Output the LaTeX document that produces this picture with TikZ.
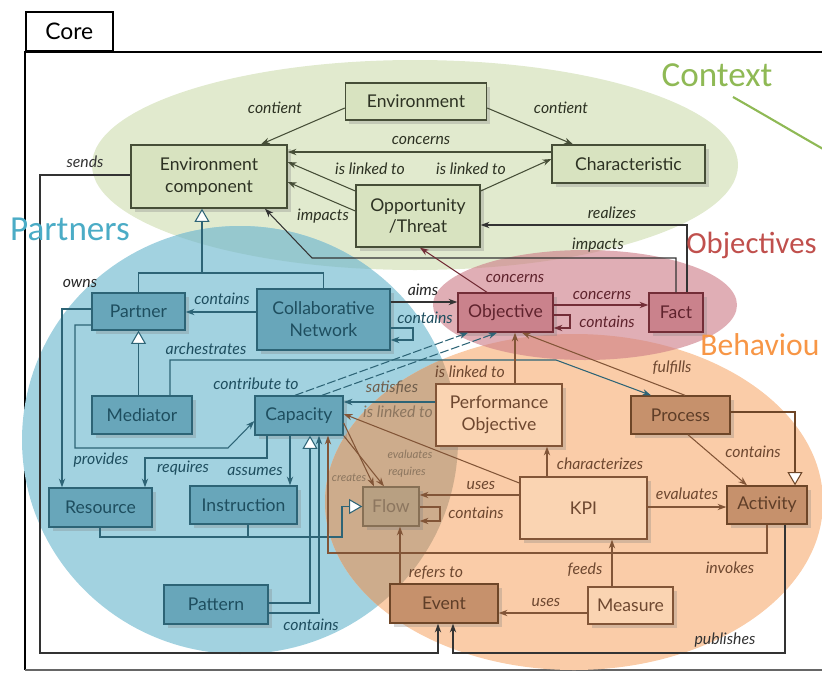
\documentclass[tikz,border=0pt]{standalone}
\usepackage{fontspec}
\setmainfont{Lato}
\newfontfamily\regionfont{Carlito}
\usetikzlibrary{arrows.meta,shadows}

\definecolor{ctxbg}{RGB}{225,234,206}
\definecolor{ctxfill}{RGB}{216,227,192}
\definecolor{ctxline}{RGB}{70,78,55}
\definecolor{ctxtext}{RGB}{45,50,35}
\definecolor{ptbg}{RGB}{162,210,224}
\definecolor{gbmix}{RGB}{150,200,206}
\definecolor{ptfill}{RGB}{104,166,186}
\definecolor{ptline}{RGB}{45,100,118}
\definecolor{pttext}{RGB}{30,78,95}
\definecolor{objbg}{RGB}{205,125,135}
\definecolor{objfill}{RGB}{202,130,140}
\definecolor{objline}{RGB}{115,45,55}
\definecolor{objtext}{RGB}{95,35,45}
\definecolor{bhbg}{RGB}{250,204,168}
\definecolor{bomix}{RGB}{205,172,140}
\definecolor{pofill}{RGB}{250,212,178}
\definecolor{poline}{RGB}{130,85,55}
\definecolor{potext}{RGB}{110,72,48}
\definecolor{dkfill}{RGB}{198,145,108}
\definecolor{dkline}{RGB}{110,70,40}
\definecolor{dktext}{RGB}{95,62,40}
\definecolor{flowfill}{RGB}{184,160,130}
\definecolor{flowline}{RGB}{135,112,85}
\definecolor{flowtext}{RGB}{140,118,95}
\definecolor{ctxlab}{RGB}{143,185,85}
\definecolor{ptlab}{RGB}{75,172,198}
\definecolor{objlab}{RGB}{192,80,77}
\definecolor{bhlab}{RGB}{247,150,70}

\begin{document}
\begin{tikzpicture}[x=0.02cm,y=-0.02cm,
    >={Stealth[length=5pt,width=3.6pt]},
    box/.style={draw,line width=0.8pt,inner sep=1pt,align=center,
      font=\fontsize{10}{12.5}\selectfont,
      drop shadow={shadow xshift=2pt,shadow yshift=-2pt,opacity=0.3}},
    ctxbox/.style={box,fill=ctxfill,draw=ctxline,text=ctxtext},
    ptbox/.style={box,fill=ptfill,draw=ptline,text=pttext},
    objbox/.style={box,fill=objfill,draw=objline,text=objtext},
    pobox/.style={box,fill=pofill,draw=poline,text=potext},
    dkbox/.style={box,fill=dkfill,draw=dkline,text=dktext},
    flowbox/.style={box,fill=flowfill,draw=flowline,text=flowtext},
    lbl/.style={font=\itshape\fontsize{9}{10}\selectfont,inner sep=0pt},
    tinylbl/.style={font=\itshape\fontsize{6.5}{7}\selectfont,inner sep=0pt,text=flowtext},
    cg/.style={draw=ctxline,line width=0.6pt},
    cb/.style={draw=ptline,line width=0.6pt},
    co/.style={draw=poline,line width=0.6pt},
    cr/.style={draw=objline,line width=0.6pt},
    ck/.style={draw=black!80,line width=0.6pt},
    gen/.style={-{Triangle[open,length=7.5pt,width=8.5pt,fill=white]}},
    dashline/.style={dash pattern=on 5pt off 1.5pt},
    region/.style={font=\regionfont\fontsize{20}{24}\selectfont,inner sep=0pt}]
    \useasboundingbox (0,0) rectangle (822,673);

    % frame of the package
    \draw[line width=0.9pt] (25,670) -- (25,52) -- (830,52);
    \draw[black!60,line width=0.6pt] (25,670) -- (830,670);
    \node[draw,line width=0.9pt,fill=white,minimum width=1.74cm,minimum height=0.78cm,
      anchor=south west,font=\fontsize{13}{14}\selectfont] (core) at (25,52) {Core};

    % regions
    \fill[ctxbg] (415,165) ellipse [x radius=323, y radius=105];
    \fill[ptbg] (240,440) ellipse [x radius=218, y radius=214];
    \begin{scope}
      \clip (415,165) ellipse [x radius=323, y radius=105];
      \fill[gbmix] (240,440) ellipse [x radius=218, y radius=214];
    \end{scope}
    \fill[bhbg] (574,502) ellipse [x radius=249, y radius=168];
    \begin{scope}
      \clip (240,440) ellipse [x radius=218, y radius=214];
      \fill[bomix] (574,502) ellipse [x radius=249, y radius=168];
    \end{scope}
    \fill[objbg,opacity=0.62] (585,305) ellipse [x radius=152, y radius=55];

    % classes
    \node[ctxbox,minimum width=2.82cm,minimum height=0.74cm] (env) at (416,101.5) {Environment};
    \node[ctxbox,minimum width=3.12cm,minimum height=1.26cm] (envcomp) at (209,176.5) {Environment\\component};
    \node[ctxbox,minimum width=3.06cm,minimum height=0.76cm] (charac) at (628.5,164) {Characteristic};
    \node[ctxbox,minimum width=2.48cm,minimum height=1.24cm] (opp) at (418,216) {Opportunity\\/Threat};
    \node[ptbox,minimum width=1.86cm,minimum height=0.74cm] (partner) at (138.5,311.5) {Partner};
    \node[ptbox,minimum width=2.66cm,minimum height=1.22cm] (collab) at (323.5,319.5) {Collaborative\\Network};
    \node[objbox,minimum width=1.90cm,minimum height=0.78cm] (objective) at (505.5,312.5) {Objective};
    \node[objbox,minimum width=1.08cm,minimum height=0.78cm] (fact) at (676,312.5) {Fact};
    \node[ptbox,minimum width=2.00cm,minimum height=0.76cm] (mediator) at (142,415) {Mediator};
    \node[ptbox,minimum width=1.76cm,minimum height=0.78cm] (capacity) at (299,415.5) {Capacity};
    \node[pobox,minimum width=2.52cm,minimum height=1.24cm] (po) at (499,415) {Performance\\Objective};
    \node[dkbox,minimum width=1.98cm,minimum height=0.76cm] (process) at (680.5,415) {Process};
    \node[ptbox,minimum width=2.06cm,minimum height=0.78cm] (resource) at (100.5,507.5) {Resource};
    \node[ptbox,minimum width=2.14cm,minimum height=0.76cm] (instruction) at (243.5,505) {Instruction};
    \node[flowbox,minimum width=1.12cm,minimum height=0.78cm] (flow) at (391,506.5) {Flow};
    \node[pobox,minimum width=2.54cm,minimum height=1.24cm] (kpi) at (583.5,508) {KPI};
    \node[dkbox,minimum width=1.60cm,minimum height=0.76cm] (activity) at (767,505) {Activity};
    \node[ptbox,minimum width=2.08cm,minimum height=0.78cm] (pattern) at (216,604.5) {Pattern};
    \node[dkbox,minimum width=2.16cm,minimum height=0.78cm] (event) at (444,603.5) {Event};
    \node[pobox,minimum width=1.70cm,minimum height=0.74cm] (measure) at (630.5,605.5) {Measure};

    \coordinate (genpc) at (202,273);

    % context associations
    \draw[cg,->] (env.west |- 0,108) -- (envcomp.north -| 261,0);
    \draw[cg,->] (env.east |- 0,108) -- (charac.north -| 573,0);
    \draw[cg,->] (charac.west |- 0,152) -- (envcomp.east |- 0,152);
    \draw[cg,->] (opp.west |- 0,191) -- (envcomp.east |- 0,162);
    \draw[cg,->] (opp.east |- 0,191) -- (charac.west |- 0,159);
    \draw[cg,->] (opp.west |- 0,211) -- (envcomp.east |- 0,182);
    \draw[ck,->] (fact.north -| 676,0) |- (312,258) -- (envcomp.south -| 265,0);
    \draw[ck,->] (fact.north -| 687,0) |- (opp.east |- 0,225);
    \draw[cr,->] (objective.north -| 487,0) -- (opp.south -| 420,0);
    \draw[ck,->] (envcomp.west |- 0,175) -| (40,653) -| (event.south -| 438,0);

    % partners associations
    \draw[cb] (partner.north) |- (collab.north |- genpc) -- (collab.north);
    \draw[cb,gen] (genpc) -- (envcomp.south -| genpc);
    \draw[cb,->] (collab.west |- 0,312) -- (partner.east |- 0,312);
    \draw[cb,gen] (mediator.north -| partner.south) -- (partner.south);
    \draw[cb,->] (partner.west |- 0,309) -| (resource.north -| 62,0);
    \draw[cb,->] (partner.west |- 0,325) -| (75,448) -- (228,448) -- (capacity.west |- 0,421);
    \draw[cb,->] (capacity.south -| 267,0) |- (145,458) -- (resource.north -| 145,0);
    \draw[cb,->] (capacity.south -| 290,0) -- (instruction.north -| 290,0);
    \draw[cb,gen] (resource.south -| 100,0) |- (342,537) |- (flow.west);
    \draw[cb] (instruction.south -| 248,0) -- (248,537);
    \draw[cb,gen] (pattern.east |- 0,603) -| (capacity.south -| 310,0);
    \draw[cb,->] (pattern.east |- 0,613) -| (capacity.south -| 319,0);
    \draw[ck,->] (collab.east |- 0,302) -- (objective.west |- 0,302);
    \draw[cb,->] (collab.east |- 0,328) -| (413,340) -- (collab.east |- 0,340);
    \draw[cb,->] (mediator.north -| 170,0) |- (556,360) -- (process.north -| 651,0);
    \draw[cb,dashline,->] (capacity.north -| 295,0) -- (objective.south -| 468,0);
    \draw[cb,dashline,->] (capacity.north -| 322,0) -- (objective.south -| 497,0);
    \draw[cb,->] (po.west |- 0,402) -- (capacity.east |- 0,402);
    \draw[co,->] (kpi.west |- 0,483) -- (capacity.east |- 0,414);
    \draw[co,->] (capacity.east |- 0,423) -- (flow.north -| 374,0);
    \draw[co,->] (capacity.south east) -- (flow.north -| 384,0);

    % objectives and behaviour associations
    \draw[cr,->] (objective.east |- 0,315) -| (570,328) -- (objective.east |- 0,328);
    \draw[cr,->] (objective.east |- 0,305) -- (fact.west |- 0,305);
    \draw[co,->] (po.north -| 515,0) -- (objective.south -| 515,0);
    \draw[co,->] (process.north -| 685,0) -- (objective.south -| 522,0);
    \draw[co,->] (process.south -| 688,0) -- (activity.north -| 747,0);
    \draw[dkline,line width=0.6pt,gen] (process.east |- 0,412) -| (activity.north -| 795,0);
    \draw[co,->] (kpi.north -| 547,0) -- (po.south -| 547,0);
    \draw[co,->] (kpi.west |- 0,495) -- (flow.east |- 0,495);
    \draw[co,->] (flow.east |- 0,507) -| (440,521) -- (flow.east |- 0,521);
    \draw[co,->] (kpi.east |- 0,507) -- (activity.west |- 0,507);
    \draw[co,->] (measure.north -| 612,0) -- (kpi.south -| 612,0);
    \draw[co,->] (measure.west |- 0,613) -- (event.east |- 0,613);
    \draw[co,->] (event.north -| 400,0) -- (flow.south -| 400,0);
    \draw[co,->] (activity.south -| 767,0) |- (328,553) -- (capacity.south -| 328,0);
    \draw[ck,->] (activity.south -| 785,0) |- (453,653) -- (event.south -| 453,0);

    % role names
    \node[lbl,text=ctxtext] (lcontient1) at (275,108) {contient};
    \node[lbl,text=ctxtext] (lcontient2) at (561,108) {contient};
    \node[lbl,text=ctxtext] (lconcerns1) at (421,140) {concerns};
    \node[lbl,text=ctxtext] (llinked1) at (370,169) {is linked to};
    \node[lbl,text=ctxtext] (llinked2) at (471,169) {is linked to};
    \node[lbl,text=ctxtext] (limpacts1) at (323,216) {impacts};
    \node[lbl,text=ctxtext] (lrealizes) at (612,213) {realizes};
    \node[lbl,text=ctxtext] (limpacts2) at (598,245) {impacts};
    \node[lbl,text=objtext] (lconcerns2) at (515,278) {concerns};
    \node[lbl,text=black!80] (lsends) at (85,162) {sends};
    \node[lbl,text=black!85] (lowns) at (80,283) {owns};
    \node[lbl,text=pttext] (lcontainsp) at (222,299) {contains};
    \node[lbl,text=black!85] (laims) at (423,290) {aims};
    \node[lbl,text=pttext] (lcontainsc) at (425,318) {contains};
    \node[lbl,text=objtext] (lconcerns3) at (602,295) {concerns};
    \node[lbl,text=objtext] (lcontainso) at (607,322) {contains};
    \node[lbl,text=pttext] (lorch) at (206,349) {archestrates};
    \node[lbl,text=potext] (llinked3) at (470,372) {is linked to};
    \node[lbl,text=potext] (lfulfills) at (672,368) {fulfills};
    \node[lbl,text=pttext] (lcontrib) at (256,384) {contribute to};
    \node[lbl,text=flowtext!80!black] (lsatisfies) at (392,388) {satisfies};
    \node[lbl,text=flowtext] (llinked4) at (398,412) {is linked to};
    \node[lbl,text=potext] (lcontainspr) at (753,452) {contains};
    \node[lbl,text=pttext] (lprovides) at (101,460) {provides};
    \node[lbl,text=potext] (lcharac) at (600,464) {characterizes};
    \node[lbl,text=pttext] (lrequires) at (183,468) {requires};
    \node[lbl,text=pttext] (lassumes) at (255,471) {assumes};
    \node[tinylbl] (levaluates) at (410,454) {evaluates};
    \node[tinylbl] (lrequires2) at (407,472) {requires};
    \node[tinylbl] (lcreates) at (349,478) {creates};
    \node[lbl,text=potext] (luses1) at (481,485) {uses};
    \node[lbl,text=potext] (levaluates2) at (687,494) {evaluates};
    \node[lbl,text=potext] (lcontainsf) at (476,513) {contains};
    \node[lbl,text=potext] (lfeeds) at (585,570) {feeds};
    \node[lbl,text=potext] (lrefers) at (436,573) {refers to};
    \node[lbl,text=potext] (linvokes) at (730,568) {invokes};
    \node[lbl,text=potext] (luses2) at (546,602) {uses};
    \node[lbl,text=pttext] (lcontainspa) at (311,625) {contains};
    \node[lbl,text=black!80] (lpublishes) at (725,640) {publishes};

    % region names
    \draw[ctxlab,line width=1.2pt] (733,97) .. controls (770,118) and (800,136) .. (832,154);
    \node[region,text=ctxlab] (context) at (717,75) {Context};
    \node[region,text=ptlab] (partners) at (70,229) {Partners};
    \node[region,text=objlab,anchor=west,font=\regionfont\fontsize{17.5}{20}\selectfont] (objectives) at (686,245) {Objectives};
    \node[region,text=bhlab,anchor=west,font=\regionfont\fontsize{18}{20}\selectfont] (behaviour) at (700,345) {Behaviou};
\end{tikzpicture}
\end{document}
